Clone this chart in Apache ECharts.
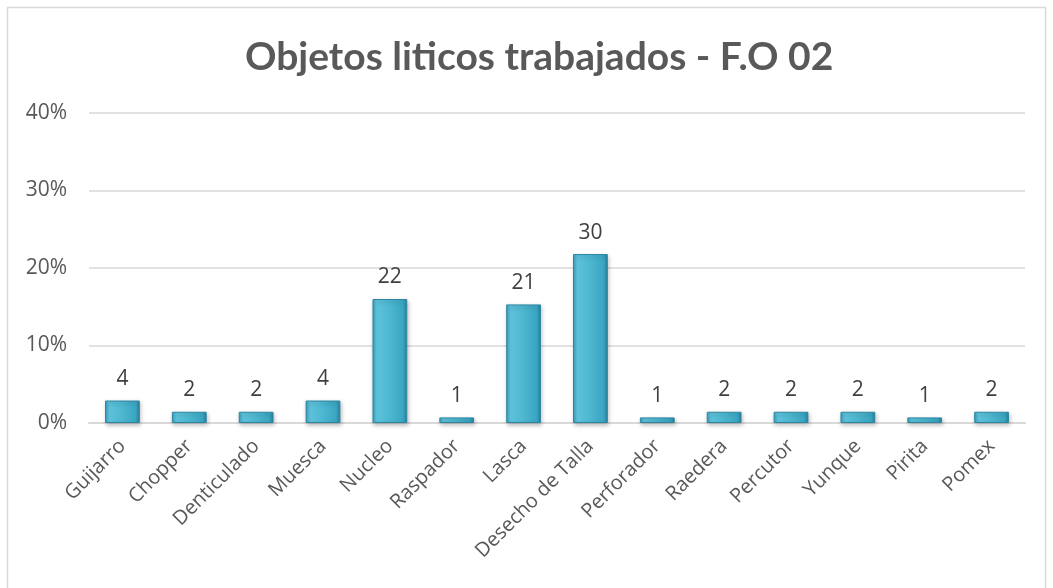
<!DOCTYPE html>
<html>
<head>
<meta charset="utf-8">
<script src="https://cdn.jsdelivr.net/npm/echarts@6/dist/echarts.min.js"></script>
<style>
  html, body { margin: 0; padding: 0; background: #fff; }
  #main { width: 1053px; height: 588px; }
</style>
</head>
<body>
<div id="main"></div>
<script>
// categorias y valores
var categorias = ['Guijarro', 'Chopper', 'Denticulado', 'Muesca', 'Nucleo', 'Raspador', 'Lasca',
  'Desecho de Talla', 'Perforador', 'Raedera', 'Percutor', 'Yunque', 'Pirita', 'Pomex'];
var cantidades = [4, 2, 2, 4, 22, 1, 21, 30, 1, 2, 2, 2, 1, 2];
// altura de las barras en porcentaje
var porcentajes = [2.9, 1.45, 1.45, 2.9, 16.0, 0.72, 15.3, 21.8, 0.72, 1.45, 1.45, 1.45, 0.72, 1.45];
var ticksY = [0, 10, 20, 30, 40];

var chart = echarts.init(document.getElementById('main'));

var datos = porcentajes.map(function (v, i) {
  return { value: v, cantidad: cantidades[i] };
});

var option = {
  backgroundColor: '#fff',
  animation: false,
  title: {
    text: 'Objetos liticos trabajados - F.O 02',
    left: 240,
    top: 33,
    textStyle: { fontFamily: 'Lato', fontWeight: 'bold', fontSize: 39, color: '#595959' }
  },
  graphic: [{
    type: 'rect',
    shape: { x: 7.5, y: 7.5, width: 1038, height: 590 },
    style: { fill: 'none', stroke: '#d9d9d9', lineWidth: 1.5 },
    silent: true
  }],
  grid: { left: 89, right: 28, top: 113, bottom: 165 },
  xAxis: {
    type: 'category',
    data: categorias,
    axisTick: { show: false },
    axisLine: { lineStyle: { color: '#d9d9d9', width: 2 } },
    axisLabel: {
      rotate: 45, interval: 0, margin: 20,
      fontFamily: 'Open Sans', fontSize: 20, color: '#595959'
    }
  },
  yAxis: {
    type: 'value',
    min: 0, max: 40, interval: 10,
    axisLine: { show: false },
    axisTick: { show: false },
    splitLine: { lineStyle: { color: '#d9d9d9', width: 1.5 } },
    axisLabel: {
      margin: 22,
      fontFamily: 'Open Sans', fontSize: 21, color: '#595959',
      formatter: function (v) { return ticksY.indexOf(v) >= 0 ? v + '%' : ''; }
    }
  },
  series: [{
    type: 'bar',
    data: datos,
    barWidth: '52%',
    itemStyle: {
      color: new echarts.graphic.LinearGradient(0, 0, 1, 0, [
        { offset: 0, color: '#3a9fbd' },
        { offset: 0.12, color: '#5ec3dc' },
        { offset: 0.5, color: '#4db6d0' },
        { offset: 0.88, color: '#3aa6c2' },
        { offset: 1, color: '#2a7f9b' }
      ]),
      borderColor: '#2c86a2',
      borderWidth: 1,
      shadowColor: 'rgba(0,0,0,0.25)',
      shadowBlur: 4,
      shadowOffsetX: 1,
      shadowOffsetY: 2
    },
    label: {
      show: true,
      position: 'top',
      distance: 11,
      fontFamily: 'Open Sans', fontSize: 21, color: '#404040',
      formatter: function (p) { return p.data.cantidad; }
    }
  }]
};

chart.setOption(option);
</script>
</body>
</html>
